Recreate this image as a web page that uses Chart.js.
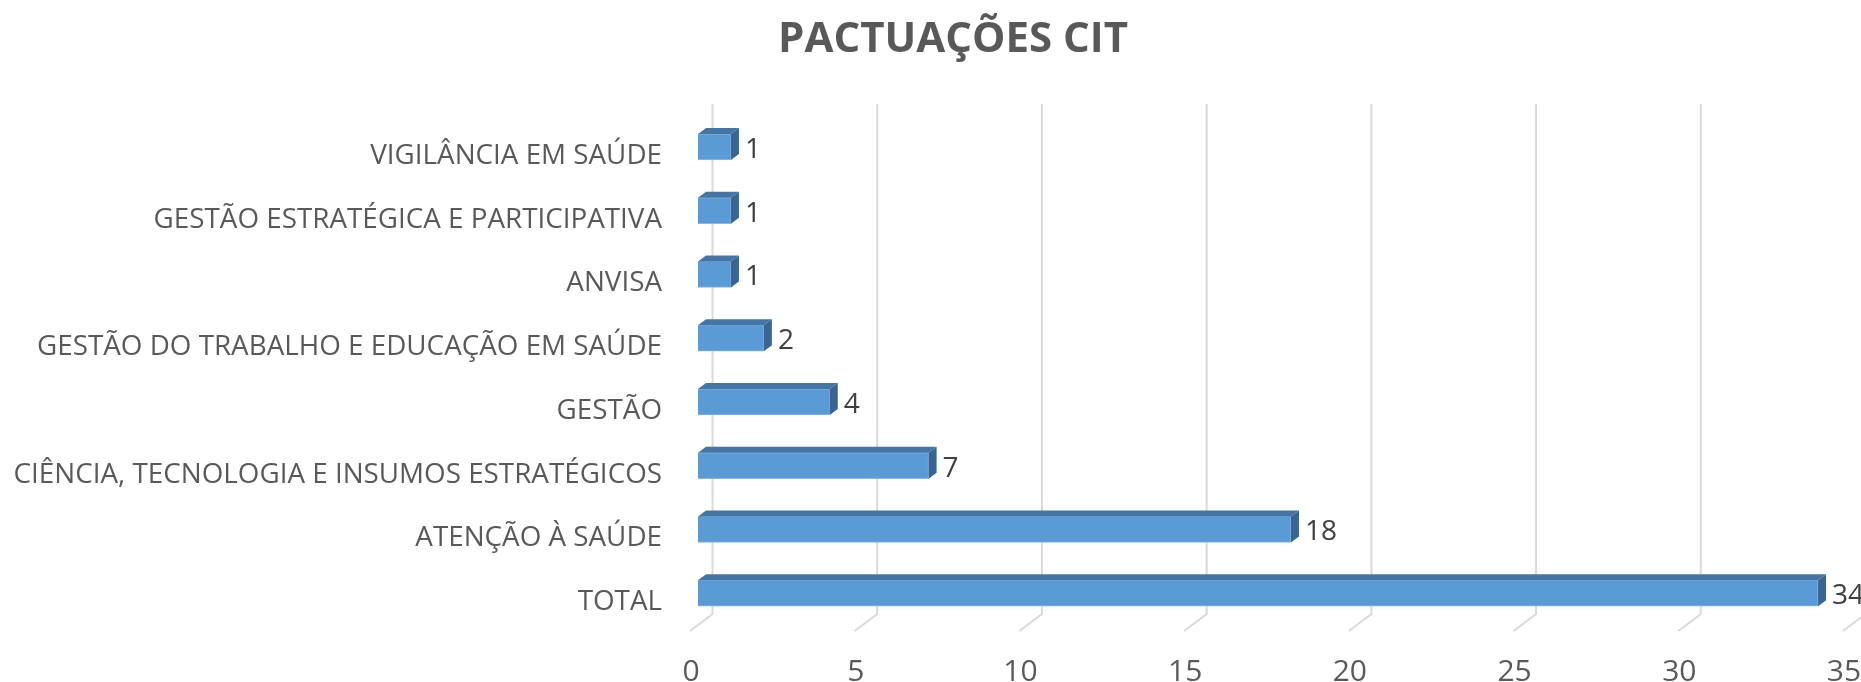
<!DOCTYPE html>
<html>
<head>
<meta charset="utf-8">
<script src="https://cdn.jsdelivr.net/npm/chart.js@4.4.1/dist/chart.umd.min.js"></script>
<style>
html, body { margin: 0; padding: 0; background: #fff; overflow: hidden; }
#wrap { position: absolute; left: 0; top: 0; width: 1906px; height: 682px; }
</style>
</head>
<body>
<div id="wrap"><canvas id="pactuacoes"></canvas></div>
<script>
var categorias = [
  'VIGILÂNCIA EM SAÚDE',
  'GESTÃO ESTRATÉGICA E PARTICIPATIVA',
  'ANVISA',
  'GESTÃO DO TRABALHO E EDUCAÇÃO EM SAÚDE',
  'GESTÃO',
  'CIÊNCIA, TECNOLOGIA E INSUMOS ESTRATÉGICOS',
  'ATENÇÃO À SAÚDE',
  'TOTAL'
];
var pactuacoes = [1, 1, 1, 2, 4, 7, 18, 34];
var eixoMin = 0, eixoMax = 35, eixoPasso = 5;

// 3D look: back wall, floor and bar depth offsets
var fundo = { dx: 14.5, dy: 11 };
var piso = { dx: -8, dy: 6 };
var prof = { dx: 8, dy: 6 };

var grade3d = {
  id: 'grade3d',
  beforeDatasetsDraw: function(chart) {
    var ctx = chart.ctx, x = chart.scales.x, a = chart.chartArea;
    ctx.save();
    ctx.strokeStyle = '#d9d9d9';
    ctx.lineWidth = 2;
    for (var v = eixoMin; v <= eixoMax; v += eixoPasso) {
      var px = x.getPixelForValue(v);
      ctx.beginPath();
      ctx.moveTo(px + fundo.dx, a.top - fundo.dy);
      ctx.lineTo(px + fundo.dx, a.bottom - fundo.dy);
      ctx.lineTo(px + piso.dx, a.bottom + piso.dy);
      ctx.stroke();
    }
    ctx.restore();
  },
  afterDatasetsDraw: function(chart) {
    var ctx = chart.ctx;
    var meta = chart.getDatasetMeta(0);
    ctx.save();
    meta.data.forEach(function(bar, i) {
      var p = bar.getProps(['x', 'y', 'base', 'height'], true);
      var x0 = p.base, x1 = p.x, y0 = p.y - p.height / 2, y1 = p.y + p.height / 2;
      // top face
      ctx.fillStyle = '#4674a3';
      ctx.beginPath();
      ctx.moveTo(x0, y0);
      ctx.lineTo(x0 + prof.dx, y0 - prof.dy);
      ctx.lineTo(x1 + prof.dx, y0 - prof.dy);
      ctx.lineTo(x1, y0);
      ctx.closePath();
      ctx.fill();
      // side face
      ctx.fillStyle = '#3b6590';
      ctx.beginPath();
      ctx.moveTo(x1, y0);
      ctx.lineTo(x1 + prof.dx, y0 - prof.dy);
      ctx.lineTo(x1 + prof.dx, y1 - prof.dy);
      ctx.lineTo(x1, y1);
      ctx.closePath();
      ctx.fill();
      // value label
      ctx.fillStyle = '#404040';
      ctx.font = '28px "Open Sans"';
      ctx.textAlign = 'left';
      ctx.textBaseline = 'middle';
      ctx.fillText(String(pactuacoes[i]), x1 + prof.dx + 6, p.y + 3);
    });
    ctx.restore();
  }
};

var pactuacoes_ctx = document.getElementById('pactuacoes').getContext('2d');
var pactuacoes_chart = new Chart(pactuacoes_ctx, {
  type: 'bar',
  data: {
    labels: categorias,
    datasets: [{
      label: 'Pactuações CIT',
      data: pactuacoes,
      backgroundColor: '#5b9bd5',
      borderColor: '#8ab6e0',
      borderWidth: 1,
      barThickness: 26
    }]
  },
  options: {
    indexAxis: 'y',
    responsive: true,
    maintainAspectRatio: false,
    animation: false,
    layout: { padding: 0 },
    plugins: {
      legend: { display: false },
      tooltip: { enabled: false },
      title: {
        display: true,
        text: 'PACTUAÇÕES CIT',
        color: '#595959',
        font: { family: '"Open Sans"', size: 42, weight: 'bold', lineHeight: 1.2 },
        padding: { top: 15, bottom: 49.6 }
      }
    },
    scales: {
      x: {
        min: eixoMin,
        max: eixoMax,
        grid: { display: false },
        border: { display: false },
        ticks: {
          stepSize: eixoPasso,
          color: '#595959',
          font: { family: '"Open Sans"', size: 30 },
          padding: 21,
          labelOffset: -7,
          maxRotation: 0
        },
        afterFit: function(s) { s.height = 57; s.paddingLeft = 0; s.paddingRight = 55; }
      },
      y: {
        grid: { display: false },
        border: { display: false },
        ticks: {
          color: '#595959',
          font: { family: '"Open Sans"', size: 27.8 },
          padding: 28,
          labelOffset: 9
        },
        afterFit: function(s) { s.width = 698; }
      }
    }
  },
  plugins: [grade3d]
});
</script>
</body>
</html>
